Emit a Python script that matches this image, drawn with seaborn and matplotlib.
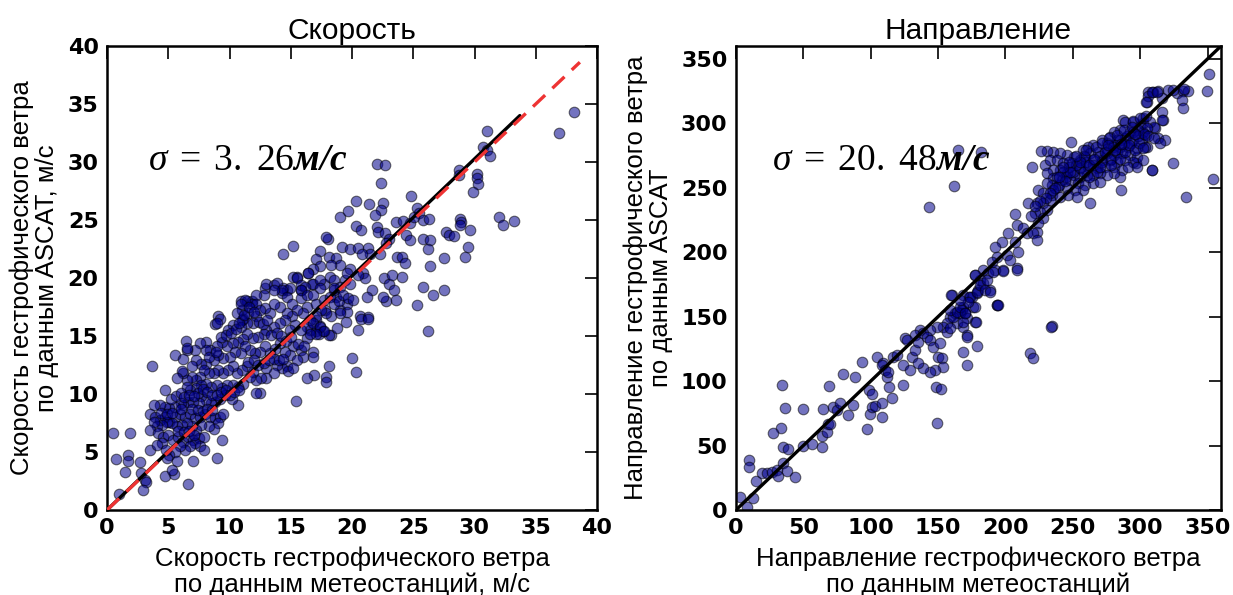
import matplotlib
matplotlib.use('Agg')
import matplotlib.pyplot as plt
import seaborn as sns

# --- wind speed, m/s: station (x) vs ASCAT (y) ---
speed_station = [
    0.5, 1.9, 0.7, 1.7, 1.7, 1.5, 1.0, 2.7, 2.8, 3.1,
    3.2, 2.9, 3.5, 4.7, 5.5, 6.6, 7.0, 9.0, 9.4, 3.65,
    4.75, 10.7, 15.4,
    38.1, 36.9, 31.0, 30.7, 31.0, 31.3, 28.7, 28.7, 30.2, 30.2,
    30.3, 29.9, 32.0, 32.3, 33.2, 22.0, 22.7, 22.4, 24.8, 20.3,
    21.4, 22.5, 22.4, 21.9, 19.0, 19.7, 25.3, 25.5, 23.6, 24.2,
    24.7, 25.8, 26.3, 25.1, 28.8, 28.9, 28.8, 20.3, 20.7, 22.0,
    22.1, 22.7, 23.0, 22.8, 18.0, 24.4, 24.7, 25.8, 26.4, 26.2,
    27.7, 27.9, 28.3, 29.6, 29.5, 29.2, 27.5, 26.4,
    14.4, 15.2, 17.4, 17.9, 19.2, 19.8, 20.5, 21.3, 21.5, 20.8,
    22.3, 23.65, 24.1, 24.3, 17.1, 18.1, 18.7, 19.0, 18.3, 17.4,
    16.8, 20.9, 21.1, 20.5, 19.8, 19.4, 19.8, 21.6, 21.2, 22.6,
    23.0, 23.3, 24.1, 23.4, 22.8, 23.6, 22.5, 25.8, 26.6, 27.5,
    25.3, 26.2, 20.65, 21.3, 20.5, 18.3, 18.1, 17.1, 16.3, 17.8,
    18.7, 19.0, 19.6, 18.5, 17.7, 16.7, 16.4, 15.5, 15.8, 14.7,
    20.0, 20.3, 19.5, 18.8, 18.1, 17.9, 17.9, 16.8, 16.8, 16.9,
    16.3, 17.6, 17.3, 17.1, 17.4, 16.6, 16.3, 20.7, 21.3,
    15.2, 15.5, 15.8, 16.4, 16.8, 17.4, 12.9, 12.8, 13.0, 13.6,
    14.4, 14.3, 10.9, 11.0, 11.4, 11.8, 11.1, 9.1, 8.8,
    18.2, 18.5, 19.6, 19.0, 18.5, 17.4, 16.2, 15.8, 14.9, 13.85,
    14.3, 13.6, 12.2, 11.8, 12.2, 11.3, 10.9, 11.5,
    14.7, 15.1, 15.8, 16.3, 16.8, 17.1, 17.7, 18.2, 18.5, 18.9,
    19.3, 19.7, 20.1, 19.6, 19.0, 18.3, 17.9, 17.5, 17.1, 16.6,
    16.0, 15.5, 15.1, 14.7, 14.1, 13.6, 13.3, 12.9, 12.5, 12.2,
    11.95, 11.4, 11.0, 10.6, 10.9, 10.3, 9.9, 9.2, 8.95,
    16.3, 16.8, 17.4, 17.7, 17.1, 16.6, 15.8, 15.35, 14.9, 14.5,
    14.1, 13.6, 13.0, 12.8, 12.35, 11.95, 11.4, 11.1, 10.7, 10.3,
    9.8, 9.4, 8.95, 8.4, 8.1, 8.1, 7.6, 7.2, 6.5, 6.45,
    6.55, 5.55, 6.2, 15.8, 15.2, 14.9, 14.5, 14.1, 13.7, 13.3,
    12.9, 12.5, 12.1, 11.7, 11.3, 10.9, 10.45, 10.0, 9.5, 9.1,
    8.7, 8.1, 7.7, 7.3, 6.9, 16.0, 15.5,
    14.7, 14.3, 13.85, 13.6, 13.0, 13.0, 12.6, 12.2, 11.95, 11.7,
    11.4, 11.0, 10.6, 10.3, 9.9, 9.5, 9.1, 8.7, 8.3, 7.9,
    7.6, 7.3, 6.9, 6.5, 6.2, 6.1, 5.7, 11.1, 10.7, 10.3,
    9.8, 9.4, 8.95, 8.5, 8.1, 7.7, 7.3, 6.8, 6.5, 12.5,
    12.2,
    10.2, 9.6, 9.2, 8.8, 8.5, 8.1, 7.7, 7.5, 7.05, 6.6,
    6.2, 6.0, 5.55, 5.1, 4.7, 4.3, 3.8, 3.5, 3.9, 4.3,
    4.7, 5.1, 5.55, 5.96, 6.4, 6.8, 7.2, 7.6, 8.0, 8.4,
    8.8, 9.2, 9.5, 9.1, 8.7, 8.3, 7.7, 7.3, 6.9, 6.5,
    6.1, 5.7, 5.3, 4.9, 4.5, 4.06, 3.8, 3.5,
    4.2, 4.6, 5.0, 5.4, 5.8, 6.2, 6.6, 7.05, 7.5, 7.9,
    7.6, 7.2, 6.8, 6.4, 5.96, 5.55, 5.1, 4.9, 4.5, 4.06,
    5.7, 5.3, 7.9,
    8.3, 8.9, 9.3, 9.7, 10.1, 10.5, 10.8, 11.2, 11.6, 12.0,
    12.4, 12.7, 13.1, 13.4, 13.9, 14.2, 14.6, 15.0, 15.6, 16.1,
    7.4, 7.8, 8.2, 8.6, 9.0, 9.3, 9.7, 10.0, 10.4, 10.8,
    5.2, 5.6, 6.0, 6.3, 6.7, 7.1, 4.4, 4.9, 5.3, 6.0,
    11.5, 12.0, 12.3, 12.8, 13.2, 13.6, 14.0, 14.4, 14.8, 15.2,
    6.9, 7.4, 7.8, 8.2, 8.6, 5.8, 6.3, 6.7, 7.1, 4.8,
]
speed_ascat = [
    6.6, 6.6, 4.4, 4.7, 4.2, 3.3, 1.4, 4.1, 3.2, 2.6,
    2.4, 1.7, 5.2, 2.9, 3.1, 2.2, 4.25, 4.45, 6.0, 12.4,
    10.3, 9.05, 9.4,
    34.3, 32.5, 32.7, 31.3, 31.0, 30.5, 29.3, 28.9, 29.0, 28.6,
    28.1, 27.4, 25.3, 24.6, 24.9, 29.8, 29.7, 28.2, 27.1, 26.6,
    26.4, 26.5, 25.9, 25.4, 25.3, 25.8, 26.0, 25.6, 24.8, 24.9,
    24.7, 25.0, 25.1, 25.3, 25.1, 24.8, 24.6, 24.5, 24.1, 24.4,
    24.0, 23.9, 23.4, 23.0, 23.4, 23.7, 23.3, 23.4, 23.3, 22.5,
    24.0, 23.7, 23.6, 24.1, 22.7, 21.8, 21.7, 21.0,
    22.1, 22.8, 22.3, 23.5, 22.7, 22.5, 22.6, 22.6, 22.1, 22.1,
    22.1, 21.8, 21.8, 21.3, 21.6, 21.8, 21.7, 21.1, 21.1, 21.0,
    20.8, 20.4, 20.0, 20.3, 20.8, 19.8, 19.5, 19.0, 18.4, 20.0,
    19.5, 20.3, 20.1, 19.0, 18.0, 18.1, 18.4, 19.2, 18.5, 19.0,
    17.7, 15.4, 16.7, 16.6, 15.5, 15.1, 15.1, 15.4, 17.5, 17.2,
    18.4, 17.2, 17.8, 19.0, 19.5, 19.5, 20.4, 20.1, 19.0, 19.0,
    13.1, 11.9, 16.2, 15.7, 12.4, 11.5, 11.0, 13.6, 13.2, 11.6,
    11.4, 15.4, 15.2, 16.4, 15.9, 15.5, 14.8, 16.5, 16.5,
    20.1, 20.0, 19.4, 20.4, 19.5, 19.8, 19.1, 18.5, 19.5, 19.4,
    19.1, 18.7, 18.0, 17.2, 18.05, 18.05, 16.5, 16.7, 16.0,
    20.1, 19.8, 20.4, 19.25, 19.1, 19.1, 19.25, 19.0, 19.1, 19.6,
    19.0, 19.0, 18.5, 17.8, 17.8, 18.1, 17.8, 16.95,
    18.4, 17.8, 18.25, 18.5, 18.5, 17.8, 18.1, 18.4, 17.8, 18.0,
    18.5, 18.25, 18.1, 17.1, 17.0, 16.7, 16.95, 17.2, 16.7, 16.4,
    16.95, 17.2, 16.7, 16.95, 17.5, 17.8, 16.95, 17.4, 17.2, 16.7,
    16.1, 16.1, 16.4, 16.95, 15.8, 15.95, 15.5, 16.5, 16.1,
    15.8, 16.1, 15.8, 15.4, 15.2, 15.2, 15.5, 15.95, 15.5, 16.4,
    16.1, 15.8, 15.5, 15.2, 14.9, 14.8, 15.2, 14.7, 14.5, 14.4,
    14.1, 14.5, 14.1, 13.8, 14.5, 13.8, 14.4, 13.8, 13.8, 14.6,
    14.0, 13.4, 13.0, 13.8, 14.1, 13.4, 13.65, 14.4, 13.9, 13.5,
    14.1, 13.65, 13.5, 13.8, 14.1, 13.5, 13.65, 13.2, 13.1, 13.4,
    12.9, 12.6, 12.6, 12.9, 12.4, 13.2, 12.9,
    12.4, 12.2, 12.5, 11.8, 12.2, 11.35, 11.35, 11.2, 11.9, 11.5,
    12.4, 12.1, 11.8, 12.4, 12.1, 11.8, 12.1, 11.8, 11.8, 12.1,
    11.5, 11.2, 11.5, 11.2, 11.8, 12.0, 11.35, 10.9, 10.6, 10.8,
    10.8, 10.5, 10.8, 10.6, 10.9, 10.8, 10.5, 10.3, 10.6, 10.1,
    10.1,
    9.6, 9.9, 9.6, 9.3, 9.2, 9.5, 9.8, 9.2, 9.3, 9.3,
    9.05, 9.2, 8.9, 8.8, 8.9, 9.05, 9.05, 8.3, 8.05, 7.76,
    8.05, 7.6, 8.05, 8.3, 8.05, 8.3, 7.9, 8.05, 8.3, 8.05,
    7.9, 8.05, 8.3, 7.5, 7.0, 7.2, 7.3, 6.9, 7.2, 7.5,
    7.3, 7.2, 7.5, 7.6, 7.3, 7.2, 7.6, 6.9,
    6.6, 6.3, 6.5, 6.0, 6.3, 5.9, 6.3, 6.0, 6.2, 6.3,
    5.5, 5.75, 5.5, 5.2, 5.5, 5.0, 4.7, 4.45, 5.75, 5.6,
    4.2, 3.45, 5.2,
    13.2, 13.6, 14.9, 15.1, 15.3, 15.6, 16.1, 16.8, 17.5, 17.1,
    16.2, 16.0, 16.4, 15.1, 15.3, 15.0, 14.6, 14.9, 14.3, 14.1,
    10.1, 10.4, 10.2, 9.9, 9.9, 10.2, 10.3, 9.9, 10.2, 10.3,
    9.6, 9.8, 10.1, 9.7, 9.9, 9.8, 8.4, 8.3, 8.4, 8.7,
    12.8, 12.9, 12.5, 12.7, 12.9, 13.0, 12.9, 13.0, 12.0, 12.2,
    8.7, 8.6, 8.5, 8.7, 8.6, 6.8, 6.7, 6.8, 6.5, 5.2,
]

# --- wind direction, degrees: station (x) vs ASCAT (y) ---
dir_station = [
    351.2, 349.4, 353.9, 334.1, 324.2, 165.0, 181.9, 161.8, 143.5, 234.4,
    306.1, 309.8, 313.5, 305.2, 321.0, 327.2, 331.4, 335.8, 330.9, 331.6,
    316.0, 317.2, 311.1, 313.1, 318.5, 314.8, 308.6, 304.4, 305.2, 297.0,
    287.6, 294.5, 300.0, 302.4,
    316.0, 316.0, 306.1, 308.6, 312.3, 304.4, 302.4, 324.7, 332.6,
    288.8, 295.0, 302.4, 307.4, 309.9, 304.9, 298.7, 292.5, 285.1, 280.2,
    277.7, 282.6, 288.8, 295.0, 301.2, 303.7, 297.5, 291.3, 285.1, 280.2,
    275.2, 271.5, 265.3, 261.6, 257.9, 262.8, 269.0, 275.2, 280.2, 286.3,
    292.5, 297.5, 302.4, 295.0, 288.8, 282.6, 277.7, 271.5, 265.3, 259.1,
    255.4, 250.5, 245.5, 240.6, 235.6, 230.7, 226.2, 248.7, 219.5, 229.4,
    233.1, 238.1, 243.0, 249.2, 255.4, 261.6, 267.8, 274.0, 280.2, 286.3,
    291.3, 297.5, 308.6, 285.1, 280.2, 275.2, 270.3, 265.3, 260.4, 255.4,
    250.5, 245.5, 240.6, 235.6, 230.7, 235.6, 241.8, 248.0, 254.2, 259.1,
    265.3, 270.3, 285.6, 262.8, 257.9, 251.7, 245.5, 239.3, 234.4, 230.7,
    224.5, 228.2, 234.4, 240.6, 246.7, 252.9, 233.1, 228.2, 223.2, 230.7,
    225.7, 222.0, 228.2, 224.5, 223.2, 217.0, 207.1, 208.4, 213.3, 215.8,
    220.8, 223.2,
    197.2, 192.3, 202.2, 207.1, 201.0, 203.4, 198.5, 193.5, 189.8, 208.4,
    209.6, 192.3, 187.3, 183.6, 181.2, 177.4, 188.6, 183.6, 179.9, 178.7,
    175.0, 173.2, 168.8, 167.5, 176.2, 170.0, 166.3, 162.6, 171.3, 160.1,
    158.9, 156.4, 153.9, 149.0, 144.0, 136.6, 163.8, 168.8, 177.4, 171.3,
    193.5, 132.9, 125.5,
    3.0, 8.4, 12.9, 9.9, 9.9, 14.9, 19.1, 22.8, 26.5, 30.2,
    31.4, 35.2, 37.6, 43.8, 34.7, 38.9, 33.4, 36.4, 33.9, 27.2,
    49.5, 50.0, 56.2, 63.6, 64.4, 63.6, 68.6, 67.3, 69.8, 71.8,
    74.8, 77.2, 83.4, 87.1, 79.7, 88.4, 69.1, 93.3, 97.0, 99.5,
    100.7, 103.2, 108.2, 108.2, 99.0, 100.7, 104.5, 109.4, 108.2, 110.6,
    111.9, 113.9, 115.6, 113.1, 116.8, 119.3, 124.3, 124.3, 126.7, 129.2,
    130.4, 132.9, 135.4, 139.1, 141.6, 144.1, 146.5, 150.2, 152.7, 154.0,
    147.8, 144.1, 139.1, 135.4, 148.5, 152.0, 149.0, 151.5, 156.4, 158.9,
    161.4, 158.9, 159.4, 163.9, 166.3, 168.8, 170.0, 168.8, 171.3, 171.3,
    168.8, 178.7, 178.2, 173.8, 178.7, 181.2, 186.1, 184.9, 188.6, 177.5,
    191.1, 198.5, 193.6, 194.3, 208.4, 233.9, 218.3, 220.8, 177.5, 172.5,
    166.3,
    250.0, 255.0, 260.0, 265.0, 270.0, 275.0, 280.0, 285.0, 290.0, 295.0,
    245.0, 240.0, 235.0, 262.0, 268.0, 272.0, 278.0, 283.0, 288.0, 293.0,
    298.0, 303.0, 258.0, 252.0, 247.0, 243.0, 238.0,
    255.0, 258.0, 262.0, 266.0, 270.0, 274.0, 278.0, 281.0, 285.0, 289.0,
    292.0, 296.0, 299.0, 302.0, 306.0, 310.0, 248.0, 244.0, 240.0, 237.0,
    233.0, 230.0, 226.0, 222.0, 219.0, 252.0, 247.0, 243.0, 260.0, 267.0,
    272.0, 277.0, 283.0, 288.0, 294.0, 300.0, 304.0, 296.0, 286.0, 276.0,
]
dir_ascat = [
    338.0, 325.1, 256.8, 243.1, 269.4, 279.3, 277.7, 251.6, 235.1, 142.7,
    324.0, 324.0, 325.3, 316.8, 326.1, 323.2, 324.9, 324.9, 318.0, 311.6,
    309.0, 302.5, 296.1, 288.3, 287.0, 284.5, 263.7, 290.9, 281.9, 269.0,
    302.5, 301.3, 297.9, 293.5,
    319.4, 302.5, 321.2, 324.5, 324.5, 316.8, 300.0, 325.8, 326.3,
    301.3, 302.0, 303.8, 301.3, 297.4, 296.1, 294.8, 293.5, 294.8, 293.5,
    289.6, 287.0, 288.3, 287.0, 287.0, 281.9, 280.6, 281.3, 281.9, 283.2,
    284.5, 287.0, 283.2, 281.9, 279.3, 276.7, 278.0, 276.7, 275.4, 276.7,
    275.4, 274.1, 271.5, 270.2, 271.5, 270.2, 271.5, 271.5, 271.5, 274.1,
    271.5, 274.1, 275.4, 276.7, 278.0, 278.8, 278.8, 285.7, 266.3, 267.6,
    271.5, 271.5, 268.9, 268.9, 266.3, 266.3, 265.1, 266.3, 266.3, 263.8,
    266.3, 266.3, 263.8, 258.6, 261.2, 259.9, 261.2, 259.9, 259.9, 258.6,
    259.9, 261.2, 263.8, 263.8, 261.2, 257.3, 256.0, 256.0, 253.4, 252.1,
    253.4, 254.7, 248.2, 237.9, 248.2, 248.2, 249.5, 250.8, 252.1, 253.4,
    248.2, 245.7, 244.4, 243.1, 244.4, 243.1, 240.5, 237.9, 237.9, 232.7,
    231.4, 230.1, 226.3, 222.4, 215.9, 237.9, 229.6, 221.1, 218.5, 214.6,
    214.6, 209.4,
    208.2, 204.3, 214.6, 208.2, 197.8, 193.9, 186.2, 196.5, 192.6, 187.5,
    200.4, 186.2, 183.6, 186.2, 178.4, 182.3, 170.7, 175.8, 170.7, 168.1,
    165.5, 165.0, 157.7, 155.1, 157.7, 152.6, 152.6, 152.6, 148.7, 166.8,
    150.0, 144.8, 142.2, 142.2, 139.6, 139.6, 144.8, 142.2, 146.1, 135.8,
    159.0, 135.8, 133.2,
    10.3, 2.1, 9.6, 38.8, 33.1, 22.8, 28.5, 28.5, 29.8, 31.0,
    26.4, 36.7, 30.3, 25.4, 48.6, 47.1, 63.4, 79.4, 97.0, 59.5,
    78.4, 49.7, 50.9, 49.1, 78.4, 57.4, 66.7, 60.8, 66.7, 80.2,
    77.6, 82.8, 73.7, 81.5, 105.5, 103.4, 96.2, 115.1, 62.8, 74.5,
    80.2, 80.7, 72.4, 82.8, 93.1, 90.0, 118.4, 113.8, 112.5, 108.6,
    103.4, 95.7, 86.6, 106.8, 119.0, 120.3, 112.5, 97.0, 131.9, 108.6,
    119.0, 124.1, 130.6, 137.1, 134.5, 131.9, 126.7, 119.0, 117.7, 111.2,
    108.6, 107.3, 109.9, 113.8, 95.7, 94.1, 67.2, 129.3, 138.4, 140.9,
    150.0, 155.2, 166.8, 153.9, 157.8, 146.1, 152.6, 166.8, 134.5, 112.5,
    122.8, 127.2, 146.1, 165.5, 169.4, 174.6, 178.4, 170.7, 169.4, 182.3,
    184.9, 185.4, 159.0, 159.0, 186.2, 142.2, 121.5, 117.7, 157.8, 161.6,
    162.9,
    262.0, 265.0, 270.0, 268.0, 275.0, 280.0, 282.0, 287.0, 290.0, 293.0,
    258.0, 252.0, 248.0, 258.0, 262.0, 270.0, 272.0, 278.0, 284.0, 285.0,
    290.0, 292.0, 275.0, 268.0, 266.0, 262.0, 258.0,
    270.0, 262.0, 268.0, 272.0, 266.0, 278.0, 268.0, 279.0, 272.0, 278.0,
    283.0, 279.0, 285.0, 281.0, 290.0, 289.0, 262.0, 255.0, 258.0, 250.0,
    246.0, 242.0, 240.0, 236.0, 228.0, 275.0, 270.0, 266.0, 279.0, 282.0,
    285.0, 289.0, 291.0, 295.0, 297.0, 304.0, 306.0, 292.0, 284.0, 283.0,
]

# reference lines
speed_fit_x = [0, 33.7]
speed_fit_y = [0, 34.0]
speed_diag = [0, 38.6]
dir_fit = [0, 365]

sigma_speed = 3.26
sigma_dir = 20.48

sns.set_style('white')
plt.rcParams['font.family'] = ['Liberation Sans', 'DejaVu Sans']
plt.rcParams['text.color'] = 'black'
plt.rcParams['axes.labelcolor'] = 'black'
plt.rcParams['mathtext.fontset'] = 'custom'
plt.rcParams['mathtext.rm'] = 'Liberation Serif'
plt.rcParams['mathtext.it'] = 'Liberation Serif:italic'
plt.rcParams['mathtext.bf'] = 'Liberation Serif:italic:bold'

fig = plt.figure(figsize=(12.33, 5.95), dpi=100)
ax1 = fig.add_axes([0.0868, 0.1429, 0.3974, 0.7798])
ax2 = fig.add_axes([0.5969, 0.1429, 0.3934, 0.7798])

point_kw = dict(color='#00008b', alpha=0.55, s=58, edgecolor='black', linewidth=0.8, zorder=2)

sns.scatterplot(x=speed_station, y=speed_ascat, ax=ax1, **point_kw)
ax1.plot(speed_fit_x, speed_fit_y, color='black', lw=2.4, zorder=3)
ax1.plot(speed_diag, speed_diag, color='#ee3333', lw=2.4, ls=(0, (5, 3)), zorder=4)

sns.scatterplot(x=dir_station, y=dir_ascat, ax=ax2, **point_kw)
ax2.plot(dir_fit, dir_fit, color='black', lw=2.4, zorder=3)

ax1.set_xlim(0, 40)
ax1.set_ylim(0, 40)
ax1.set_xticks(range(0, 41, 5))
ax1.set_yticks(range(0, 41, 5))
ax2.set_xlim(0, 360)
ax2.set_ylim(0, 360)
ax2.set_xticks(range(0, 351, 50))
ax2.set_yticks(range(0, 351, 50))

ax1.set_title('Скорость', fontsize=21.5, pad=5)
ax2.set_title('Направление', fontsize=21.5, pad=5)
lab_kw = dict(fontsize=18.5, linespacing=1.05)
ax1.set_xlabel('Скорость гестрофического ветра\nпо данным метеостанций, м/с', labelpad=6, **lab_kw)
ax1.set_ylabel('Скорость гестрофического ветра\nпо данным ASCAT, м/с', labelpad=6, **lab_kw)
ax2.set_xlabel('Направление гестрофического ветра\nпо данным метеостанций', labelpad=6, **lab_kw)
ax2.set_ylabel('Направление гестрофического ветра\nпо данным ASCAT', labelpad=6, **lab_kw)


def sigma_label(value):
    return r'$\sigma\;=\;%s\mathbf{м/с}$' % str(value).replace('.', r'.\ ')


ax1.text(0.084, 0.754, sigma_label(sigma_speed), transform=ax1.transAxes, fontsize=27, va='center')
ax2.text(0.074, 0.754, sigma_label(sigma_dir), transform=ax2.transAxes, fontsize=27, va='center')

for ax in (ax1, ax2):
    ax.tick_params(direction='in', length=9, width=1.2, top=True, right=True,
                   labelsize=16, pad=6, colors='black')
    for lab in ax.get_xticklabels() + ax.get_yticklabels():
        lab.set_fontweight('bold')
        lab.set_family('DejaVu Sans')
    for sp in ax.spines.values():
        sp.set_linewidth(1.8)
        sp.set_color('black')

fig.savefig('out.png', dpi=100)
